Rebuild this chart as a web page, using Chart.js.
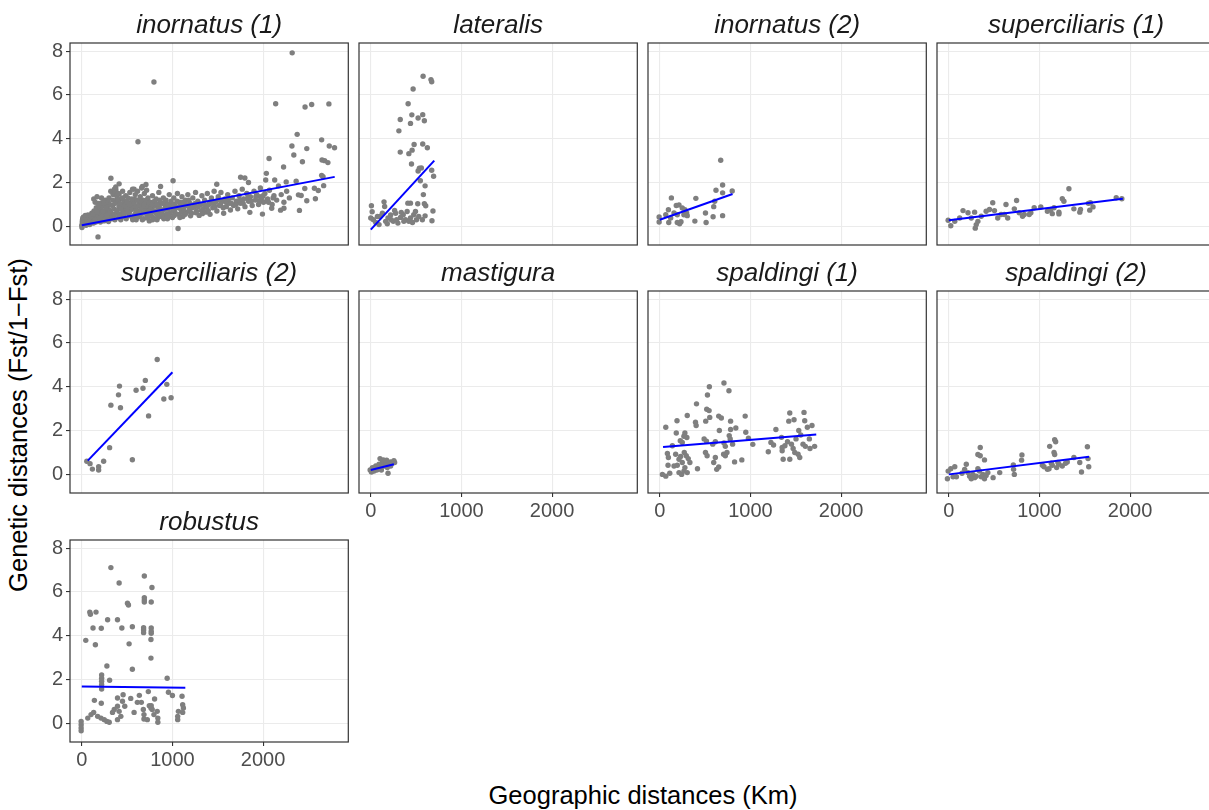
<!DOCTYPE html>
<html>
<head>
<meta charset="utf-8">
<script src="https://cdn.jsdelivr.net/npm/chart.js@4.4.1/dist/chart.umd.min.js"></script>
<style>
  body { margin: 0; background: #fff; width: 1209px; height: 810px; overflow: hidden; position: relative;
         font-family: "Liberation Sans", Arial, sans-serif; }
  canvas { position: absolute; }
  .axis-title { position: absolute; font-size: 25.5px; color: #000; white-space: nowrap; }
</style>
</head>
<body>
<div id="xTitle" class="axis-title">Geographic distances (Km)</div>
<div id="yTitle" class="axis-title">Genetic distances (Fst/1−Fst)</div>
<script>
// facet titles, in plot order
var panelTitles = ['inornatus (1)', 'lateralis', 'inornatus (2)', 'superciliaris (1)',
                   'superciliaris (2)', 'mastigura', 'spaldingi (1)', 'spaldingi (2)', 'robustus'];

var xTicks = [0, 1000, 2000];
var yTicks = [0, 2, 4, 6, 8];
var xRange = [-130, 2940];
var yRange = [-0.85, 8.37];

// [geographic km, Fst/(1-Fst)]
var inornatus1 = [
  [2321,7.92],[796,6.59],[620,3.86],[2139,5.6],[2463,5.45],[2536,5.56],[2726,5.59],[2376,4.2],[2646,3.95],
  [2318,3.67],[2339,3.26],[2482,3.55],[2730,3.67],[2788,3.59],[2066,3.1],[2226,2.71],[2434,2.95],[2650,3.03],
  [2679,3.0],[2715,2.91],[2036,2.42],[2646,2.33],[2661,2.27],[321,2.2],[412,1.94],[179,-0.48],[1062,-0.1],
  [1007,2.08],[869,1.82],[1752,2.24],[1799,2.21],[1839,2.0],[2029,2.12],[2128,2.12],[2255,2.03],[2365,2.06],
  [2460,1.73],[2566,1.74],[2609,1.64],[2668,1.86],[2390,1.44],[2420,1.41],[2482,1.17],[2577,1.26],[2401,0.73],
  [2230,0.83],[2193,0.74],[2095,0.83],[1993,0.56],[1854,0.64],[2044,1.21],[1964,1.36],[1489,1.92],[708,1.91],
  [668,1.82],[577,1.7],[376,1.67],[412,1.48],[212,1.06],[266,1.03],
  [0,0.05],[5,0.2],[10,0.12],[15,0.3],[20,0.25],[25,0.08],[30,0.35],[35,0.15],[40,0.28],[45,0.18],[50,0.4],
  [55,0.22],[60,0.1],[65,0.32],[70,0.26],[75,0.45],[80,0.15],[85,0.38],[90,0.2],[95,0.5],[100,0.3],
  [2,-0.05],[8,0.3],[12,0.38],[48,0.05],[68,0.52],[88,0.08],
  [110,0.6],[115,0.25],[120,0.4],[130,0.15],[135,0.7],[140,0.35],[150,0.5],[155,0.2],[160,0.85],[165,0.45],
  [175,0.3],[180,0.62],[185,1.05],[190,0.4],[200,0.75],[205,0.2],[210,0.55],[220,0.9],[225,0.35],[230,1.05],
  [240,0.5],[245,0.25],[250,0.7],[260,1.2],[265,0.4],[270,0.6],[280,0.9],[285,0.3],[290,0.55],[300,1.3],
  [305,0.75],[310,0.45],[320,1.6],[325,0.6],[330,0.35],[340,0.95],[345,1.45],[350,0.5],
  [360,1.7],[370,1.55],[375,1.8],[385,1.4],[390,1.25],
  [355,0.8],[365,0.3],[380,1.1],[395,0.6],[400,1.5],[405,0.4],[410,0.9],[420,1.25],[425,0.55],[430,0.3],
  [440,1.0],[450,1.6],[455,0.7],[460,0.45],[470,1.15],[480,0.85],[485,1.4],[490,0.35],[500,0.65],[510,1.3],
  [515,0.95],[520,0.5],[530,1.55],[540,0.75],[545,1.1],[555,0.4],[560,1.7],[570,0.85],[580,1.25],[585,0.55],
  [590,1.45],[600,0.3],[605,0.9],[615,1.6],[620,0.7],[630,1.15],[640,0.45],[645,1.35],[650,0.95],[660,1.75],
  [665,0.6],[675,1.2],[680,0.35],[690,1.5],[700,0.8],[705,1.05],[715,1.65],[720,0.5],[730,1.3],[740,0.9],
  [745,0.25],
  [755,1.1],[760,0.55],[770,0.8],[780,1.4],[790,0.4],[800,0.95],[810,0.65],[820,1.25],[830,0.3],[840,0.85],
  [850,1.55],[860,0.6],[870,1.05],[880,0.45],[890,0.75],[900,1.3],[910,0.5],[920,0.95],[930,1.2],[945,0.35],
  [955,0.8],[965,1.45],[975,0.6],[990,1.0],[1000,0.4],[1015,1.3],[1025,0.7],[1040,0.9],[1055,1.5],[1065,0.55],
  [1080,1.1],[1090,0.8],[1105,1.35],[1115,0.45],[1130,0.95],[1145,1.2],[1155,0.65],[1170,1.45],[1185,0.85],
  [1195,1.05],
  [1210,0.6],[1225,1.3],[1240,0.9],[1255,1.55],[1265,0.7],[1280,1.15],[1295,0.5],[1310,1.0],[1325,1.4],
  [1340,0.8],[1355,1.2],[1370,0.65],[1385,1.5],[1400,1.0],[1415,0.55],[1430,1.3],[1445,0.85],[1460,1.6],
  [1475,1.1],[1490,0.7],[1505,1.35],[1520,0.95],[1535,1.55],[1550,1.15],[1565,0.6],[1580,1.25],[1595,0.9],
  [1610,1.45],[1625,1.05],[1640,0.75],
  [1660,1.3],[1675,0.95],[1690,1.6],[1705,1.15],[1720,0.8],[1735,1.4],[1750,1.05],[1770,1.7],[1785,1.25],
  [1800,0.9],[1820,1.5],[1840,1.15],[1860,1.35],[1880,0.95],[1900,1.6],[1915,1.2],[1930,1.45],[1950,1.0],
  [1970,1.75],[1985,1.3],[2005,1.1],[2020,1.5],[2050,1.25],[2070,1.65],[2100,1.0],[2120,1.4],[2150,1.2],
  [2170,1.85],[2200,1.45],[2230,1.1],[2260,1.6],[2290,1.3],
  [18,0.42],[28,0.2],[38,0.5],[58,0.3],[78,0.22],[98,0.15],[105,0.45],[125,0.55],[145,0.28],[170,0.65],
  [195,0.25],[215,0.42],[235,0.68],[255,0.32],[275,0.48],[295,0.22],[315,0.62],[335,0.42],[360,0.55],
  [385,0.72],[415,0.48],[435,0.78],[465,0.58],[495,0.82],[525,0.62],[550,0.9],[575,0.45],[595,0.72],
  [625,0.52],[655,0.82],[685,0.62],[710,0.92],[735,0.68],[765,0.48],[795,0.72],[825,0.58],[855,0.88],
  [885,0.62],[915,0.78],[940,0.58],[970,0.92],[1005,0.72],[1035,0.58],[1070,0.85],[1100,0.65],[1125,0.75],
  [1160,0.95],[1190,0.72],[1220,0.85],[1250,1.05],[1285,0.9],[1320,0.72],[1350,1.0],[1380,0.88],[1410,1.1],
  [1440,1.05],[1470,0.9],[1500,1.2],[1530,1.0],[1560,0.85],[1590,1.1],[1620,1.25],[1650,1.05],[1700,1.0],
  [1740,1.2],[1780,1.05],[1830,1.3],[1870,1.15],[1920,1.35],[1960,1.15],[2000,1.4],[2060,1.1],[2110,1.3],
  [132,1.25],[148,1.1],[168,1.35],[192,0.95],[218,1.3],[242,1.15],[268,0.85],[292,1.1],[318,0.98],
  [342,1.2],[368,1.05],[398,1.2],[422,1.05],[448,1.3],[472,0.95],[498,1.12],[528,1.0],[552,1.25],
  [578,1.05],[608,1.2],[632,0.98],[658,1.1],[688,1.0],[712,1.2],[742,1.08],[772,1.0],[802,1.15],
  [832,1.02],[862,1.2],[892,1.05],[922,1.12],[952,1.0],[985,1.15],[1020,1.0],[1050,1.15],[1085,0.98],
  [1120,1.1],[1150,1.0],[1180,1.2],[562,0.3],[612,0.42],[668,0.3],[725,0.38],[782,0.3],[842,0.42],
  [905,0.35],[962,0.45],[1020,0.5],[1082,0.4],[1142,0.55],[1200,0.48],[1260,0.62],[1330,0.58],[1395,0.72]
];

var lateralis = [
  [577,6.85],[664,6.7],[672,6.6],[467,6.27],[412,5.6],[325,4.88],[453,5.09],[573,5.1],[522,4.95],[438,4.7],
  [591,4.82],[310,4.36],[478,3.74],[573,3.76],[624,3.59],[325,3.39],[420,3.32],[456,3.48],[449,2.85],
  [536,2.65],[558,2.67],[522,2.53],[672,2.56],[693,2.29],[547,2.08],[599,1.85],[580,1.45],[591,1.03],
  [606,0.94],[518,1.03],[438,1.06],[409,1.06],[7,0.94],[146,1.12],[153,0.91],[15,0.67],[686,0.7],[675,0.26],
  [569,0.3],[599,0.48],
  [0,0.38],[29,0.3],[55,0.18],[102,0.45],[128,0.6],[164,0.23],[190,0.38],[219,0.52],[248,0.23],[274,0.6],
  [299,0.15],[328,0.41],[358,0.53],[383,0.3],[401,0.68],[438,0.38],[474,0.53],[493,0.68],[504,0.3],
  [529,0.45],[285,0.3],[182,0.12],[73,0.45],[365,0.23],[263,0.73],[91,0.08],[226,0.3],[336,0.64],
  [420,0.23],[460,0.18]
];

var inornatus2 = [
  [672,3.02],[693,1.89],[620,1.65],[693,1.53],[799,1.62],[128,1.3],[398,1.28],[606,1.15],[595,0.9],
  [182,0.95],[212,0.98],[95,0.76],[248,0.84],[277,0.76],[296,0.61],[157,0.61],[504,0.61],[588,0.44],
  [693,0.49],[-7,0.43],[-7,0.2],[99,0.18],[193,0.18],[219,0.12],[234,0.21],[387,0.24],[511,0.18],
  [66,0.53],[266,0.53],[193,0.53],[120,0.38],[303,0.49]
];

var superciliaris1 = [
  [1325,1.72],[1847,1.31],[1909,1.26],[1252,1.26],[1270,1.15],[485,1.08],[631,1.0],[748,1.18],[157,0.72],
  [212,0.62],[285,0.65],[412,0.69],[449,0.77],[504,0.72],[577,0.54],[650,0.38],[723,0.8],[777,0.62],
  [832,0.54],[905,0.62],[942,0.85],[1015,0.89],[1088,0.69],[1142,0.58],[1215,0.65],[1161,0.85],[1453,0.77],
  [1445,0.65],[1555,0.74],[1591,0.89],[1562,1.08],[1540,1.05],[-7,0.28],[22,0.03],[66,0.23],[120,0.38],
  [248,0.38],[303,0.08],[292,-0.08],[321,0.23],[358,0.46],[540,0.38],[613,0.54],[814,0.46],[887,0.54],
  [1124,0.77],[1215,0.57],[1380,0.8]
];

var superciliaris2 = [
  [832,5.24],[701,4.29],[675,3.93],[599,3.84],[416,4.03],[405,3.63],[321,3.16],[427,3.04],[938,4.11],
  [905,3.44],[985,3.5],[737,2.67],[307,1.22],[558,0.67],[241,0.6],[55,0.6],[91,0.49],[117,0.24],[186,0.35],
  [186,0.2]
];

var mastigura = [
  [102,0.72],[190,0.05],[-7,0.2],[18,0.31],[36,0.15],[55,0.38],[73,0.23],[91,0.46],[110,0.31],[128,0.54],
  [146,0.38],[164,0.46],[175,0.65],[201,0.46],[219,0.57],[237,0.51],[255,0.62],[263,0.54],[7,0.11],
  [66,0.2],[117,0.2],[182,0.31],[139,0.66],[29,0.23],[219,0.38]
];

var spaldingi1 = [
  [708,4.17],[547,4.0],[763,3.82],[526,3.62],[405,3.22],[518,2.97],[544,2.91],[507,2.43],[551,2.6],
  [650,2.66],[679,2.57],[303,2.69],[190,2.45],[394,2.38],[401,2.23],[942,2.66],[781,2.43],[839,2.12],
  [781,2.05],[657,2.0],[949,1.92],[66,2.15],[182,1.89],[277,1.89],[299,1.68],[266,1.74],[226,1.54],
  [248,1.46],[489,1.62],[515,1.52],[584,1.38],[766,1.77],[777,1.62],[803,1.38],[708,1.43],[723,1.28],
  [1026,1.37],[978,1.65],[613,1.49],[139,1.31],[84,0.95],[95,0.77],[175,0.92],[212,0.69],[230,0.82],
  [270,1.0],[292,0.85],[314,0.72],[332,0.54],[248,0.54],[277,0.31],[157,0.38],[193,0.42],[91,0.42],
  [29,0.0],[66,-0.08],[110,0.05],[212,0.08],[241,0.0],[266,0.15],[303,0.08],[416,0.26],[504,1.0],
  [522,0.85],[613,0.77],[595,0.54],[628,0.23],[650,0.34],[704,0.92],[723,0.85],[741,1.0],[825,0.57],
  [905,0.66],[1281,2.05],[1197,1.03],[1226,1.46],[1255,1.34],[1343,1.69],[1350,1.23],[1361,0.69],
  [1434,0.69],[1434,2.8],[1423,2.43],[1481,2.49],[1591,2.83],[1599,2.45],[1533,2.0],[1555,1.8],
  [1628,2.15],[1679,2.23],[1453,1.38],[1471,1.18],[1489,1.0],[1526,0.92],[1544,0.77],[1580,1.38],
  [1606,1.28],[1650,1.62],[1657,1.18],[1708,1.28],[1380,1.31],[1409,1.49],[1503,1.62],[1350,1.08]
];

var spaldingi2 = [
  [1179,1.49],[1168,1.58],[1113,1.28],[1529,1.26],[1161,1.0],[1168,0.91],[347,1.23],[321,0.91],[347,0.85],
  [394,0.66],[807,0.89],[803,0.65],[712,0.43],[715,0.23],[723,0.0],[562,0.08],[489,-0.15],[193,0.46],
  [66,0.35],[22,0.26],[-7,0.15],[-15,-0.2],[47,-0.11],[84,-0.11],[212,0.08],[230,-0.08],[248,-0.2],
  [266,0.0],[285,-0.15],[303,-0.08],[321,0.26],[339,0.15],[358,-0.11],[376,0.0],[394,-0.2],[412,-0.05],
  [431,0.08],[175,0.23],[146,0.05],[1033,0.42],[1051,0.35],[1088,0.23],[1106,0.26],[1142,0.42],[1190,0.31],
  [1215,0.46],[1252,0.38],[1288,0.51],[1307,0.57],[1380,0.77],[1445,0.54],[1464,0.11],[1544,0.35],
  [1536,0.72],[1131,0.51],[1204,0.54]
];

var robustus = [
  [321,7.11],[690,6.73],[412,6.41],[774,6.2],[690,5.74],[690,5.63],[690,5.54],[766,5.54],[504,5.48],
  [515,5.4],[88,5.08],[95,4.98],[157,5.08],[285,4.73],[394,4.73],[124,4.35],[215,4.34],[442,4.35],
  [558,4.41],[682,4.37],[682,4.26],[682,4.14],[766,4.35],[766,4.21],[766,4.11],[44,3.79],[150,3.59],
  [522,3.63],[763,3.83],[763,2.98],[277,2.62],[558,2.47],[219,2.21],[219,2.06],[219,1.92],[219,1.77],
  [219,1.57],[307,1.97],[942,2.06],[956,1.42],[1000,1.27],[1106,1.24],[734,1.45],[394,1.16],[456,1.31],
  [449,1.01],[139,1.05],[215,0.92],[540,1.14],[635,1.28],[803,1.11],[613,0.96],[657,0.96],[474,0.78],
  [394,0.78],[412,0.55],[358,0.63],[339,0.5],[66,0.24],[102,0.4],[131,0.5],[175,0.32],[212,0.24],
  [248,0.17],[277,0.09],[303,0.05],[394,0.17],[431,0.32],[577,0.5],[679,0.63],[686,0.4],[686,0.2],
  [723,0.17],[766,0.81],[777,0.63],[796,0.4],[832,0.55],[839,0.24],[839,0.05],[1066,0.55],[1058,0.32],
  [1058,0.17],[1113,0.85],[1121,0.7],[1113,0.5],[-7,0.09],[-7,-0.06],[-7,-0.21],[-7,-0.34],[745,0.81],
  [763,0.7]
];

// fitted lm lines, [start, end]
var inornatus1Fit = [[0,0.05],[2790,2.26]];
var lateralisFit = [[0,-0.15],[700,3.0]];
var inornatus2Fit = [[0,0.3],[803,1.48]];
var superciliaris1Fit = [[0,0.28],[1920,1.26]];
var superciliaris2Fit = [[66,0.63],[1000,4.66]];
var mastiguraFit = [[0,0.2],[255,0.46]];
var spaldingi1Fit = [[36,1.25],[1726,1.82]];
var spaldingi2Fit = [[0,0.0],[1547,0.8]];
var robustusFit = [[0,1.68],[1142,1.63]];

var panelPoints = [inornatus1, lateralis, inornatus2, superciliaris1, superciliaris2,
                   mastigura, spaldingi1, spaldingi2, robustus];
var panelFits = [inornatus1Fit, lateralisFit, inornatus2Fit, superciliaris1Fit, superciliaris2Fit,
                 mastiguraFit, spaldingi1Fit, spaldingi2Fit, robustusFit];

// layout
var PANEL_W = 279, PANEL_H = 202;
var LEFTS = [70, 359, 648, 937];
var TOPS = [43, 291, 540];
var PAD_L = 60, PAD_T = 40, PAD_B = 40;
var FONT = '"Liberation Sans", Arial, Helvetica, sans-serif';

var panelBorder = {
    id: 'panelBorder',
    afterDatasetsDraw: function(chart) {
        var a = chart.chartArea, ctx = chart.ctx;
        ctx.save();
        ctx.strokeStyle = '#333333';
        ctx.lineWidth = 1.2;
        ctx.strokeRect(a.left, a.top, a.right - a.left, a.bottom - a.top);
        ctx.restore();
    }
};

function toXY(arr) {
    return arr.map(function(p) { return {x: p[0], y: p[1]}; });
}

for (var i = 0; i < panelTitles.length; i++) {
    var col = i % 4, row = Math.floor(i / 4);
    var showY = col === 0;
    // x axis labels only under the lowest panel of each column
    var showX = (row === 2) || (row === 1 && col > 0);

    var canvas = document.createElement('canvas');
    canvas.width = PAD_L + PANEL_W + 2;
    canvas.height = PAD_T + PANEL_H + PAD_B;
    canvas.style.left = (LEFTS[col] - PAD_L) + 'px';
    canvas.style.top = (TOPS[row] - PAD_T) + 'px';
    document.body.appendChild(canvas);

    new Chart(canvas.getContext('2d'), {
        type: 'scatter',
        data: {
            datasets: [{
                type: 'line',
                data: toXY(panelFits[i]),
                borderColor: '#0000ff',
                borderWidth: 2,
                pointRadius: 0,
                fill: false
            }, {
                data: toXY(panelPoints[i]),
                backgroundColor: '#7f7f7f',
                borderWidth: 0,
                pointRadius: 2.7,
                pointHoverRadius: 2.7
            }]
        },
        options: {
            responsive: false,
            animation: false,
            layout: { padding: { left: 0, right: 1, top: 0, bottom: 0 } },
            plugins: {
                legend: { display: false },
                tooltip: { enabled: false },
                title: {
                    display: true,
                    fullSize: false,   // centre the strip label over the panel, not the canvas
                    text: panelTitles[i],
                    color: '#1a1a1a',
                    font: { family: FONT, size: 26, style: 'italic', weight: 'normal', lineHeight: 1 },
                    padding: { top: 10, bottom: 4 }
                }
            },
            scales: {
                x: {
                    type: 'linear',
                    min: xRange[0],
                    max: xRange[1],
                    afterBuildTicks: function(s) { s.ticks = xTicks.map(function(v) { return {value: v}; }); },
                    afterFit: function(s) { s.height = PAD_B; },
                    border: { display: false },
                    grid: { color: '#ebebeb', lineWidth: 1.1, drawTicks: showX, tickLength: 4,
                            tickColor: '#333333', tickWidth: 1.1 },
                    ticks: { display: showX, color: '#4d4d4d', padding: 2, maxRotation: 0,
                             font: { family: FONT, size: 20 },
                             callback: function(v) { return String(v); } }
                },
                y: {
                    type: 'linear',
                    min: yRange[0],
                    max: yRange[1],
                    afterBuildTicks: function(s) { s.ticks = yTicks.map(function(v) { return {value: v}; }); },
                    afterFit: function(s) { s.width = PAD_L; },
                    border: { display: false },
                    grid: { color: '#ebebeb', lineWidth: 1.1, drawTicks: showY, tickLength: 4,
                            tickColor: '#333333', tickWidth: 1.1 },
                    ticks: { display: showY, color: '#4d4d4d', padding: 3,
                             font: { family: FONT, size: 20 },
                             callback: function(v) { return String(v); } }
                }
            }
        },
        plugins: [panelBorder]
    });
}

var xt = document.getElementById('xTitle');
xt.style.left = '643px';
xt.style.top = '795px';
xt.style.transform = 'translate(-50%, -50%)';
var yt = document.getElementById('yTitle');
yt.style.left = '18px';
yt.style.top = '425px';
yt.style.transform = 'translate(-50%, -50%) rotate(-90deg)';
</script>
</body>
</html>
